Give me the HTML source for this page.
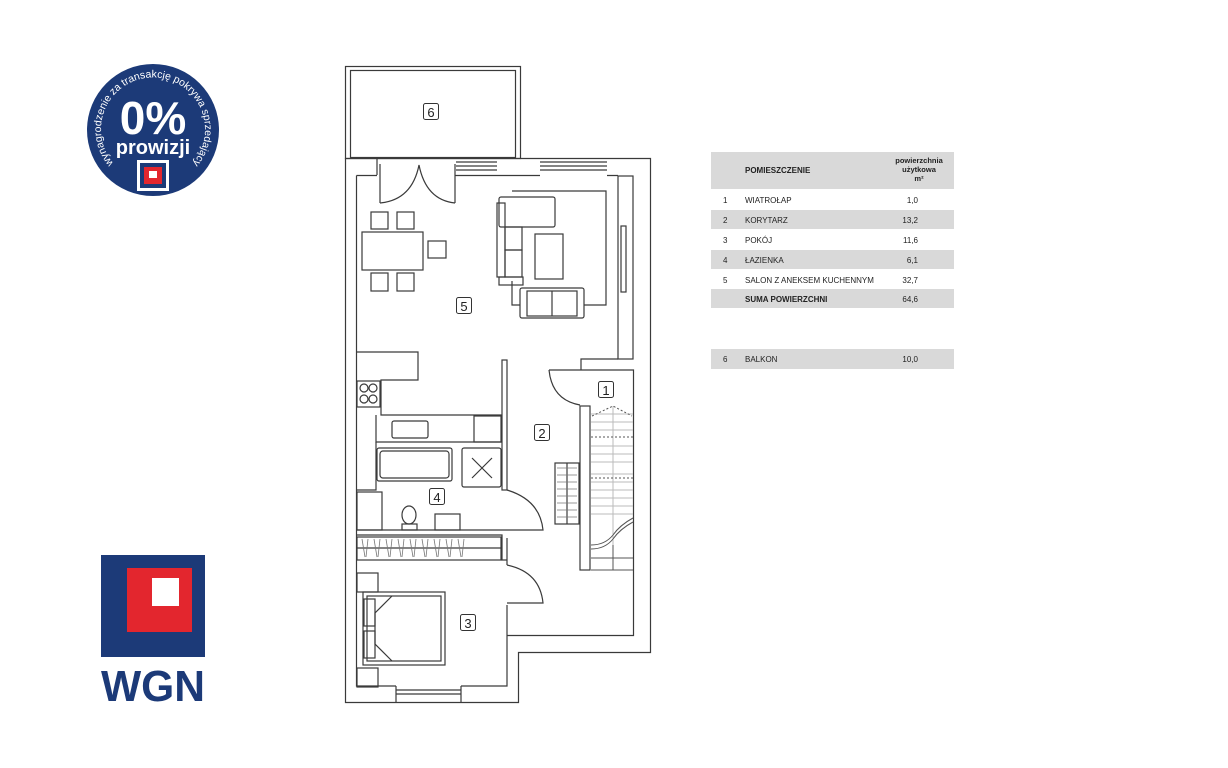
<!DOCTYPE html>
<html><head><meta charset="utf-8"><style>
html,body{margin:0;padding:0;background:#fff;}
body{width:1228px;height:768px;position:relative;overflow:hidden;font-family:"Liberation Sans",sans-serif;}
</style></head><body>
<svg width="1228" height="768" viewBox="0 0 1228 768" xmlns="http://www.w3.org/2000/svg" style="position:absolute;left:0;top:0">
<rect width="1228" height="768" fill="#fff"/>
<!-- badge -->
<circle cx="153" cy="130" r="66" fill="#1c3a78"/>
<defs><path id="arc" d="M117,167 A52,52 0 1,1 189,167"/></defs>
<text font-family="Liberation Sans,sans-serif" font-size="10.5" fill="#fff" text-anchor="middle"><textPath href="#arc" startOffset="50%">wynagrodzenie za transakcję pokrywa sprzedający</textPath></text>
<text x="153" y="134" text-anchor="middle" font-family="Liberation Sans,sans-serif" font-weight="bold" font-size="46" fill="#fff">0%</text>
<text x="153" y="154" text-anchor="middle" font-family="Liberation Sans,sans-serif" font-weight="bold" font-size="20" fill="#fff">prowizji</text>
<rect x="137" y="160" width="32" height="31" fill="#fff"/>
<rect x="140" y="163" width="26" height="25" fill="#1c3a78"/>
<rect x="144" y="167" width="18" height="17" fill="#e3262e"/>
<rect x="149" y="171" width="8" height="7" fill="#fff"/>
<!-- WGN logo -->
<rect x="101" y="555" width="104" height="102" fill="#1c3a78"/>
<rect x="127" y="568" width="65" height="64" fill="#e3262e"/>
<rect x="152" y="578" width="27" height="28" fill="#fff"/>
<text x="153" y="701" text-anchor="middle" font-family="Liberation Sans,sans-serif" font-weight="bold" font-size="44" fill="#1c3a78" textLength="104" lengthAdjust="spacingAndGlyphs">WGN</text>

<!-- floor plan -->
<g fill="none" stroke="#3a3a3a" stroke-width="1.2">
<rect x="345.5" y="66.5" width="175" height="92"/>
<rect x="350.5" y="70.5" width="165" height="87"/>
<path d="M345.5,158.5 H650.5 V652.5 H518.5 V702.5 H345.5 Z"/>
<path d="M356.5,175.5 H377 M455,175.5 H540 M607,175.5 H618"/>
<path d="M356.5,175.5 V686 H396 M461,686 H507 V605"/>
<path d="M507,565 V538"/>
<path d="M456,162 H497 M456,166 H497 M456,170 H497 M540,162 H607 M540,166 H607 M540,170 H607"/>
<path d="M396,686 V702 M461,686 V702 M396,690 H461 M396,694 H461"/>
<path d="M377,158 V175 M380,164 V203 M455,164 V203"/>
<path d="M380,203 Q412,200 419,165 Q426,200 455,203"/>
<rect x="618" y="176" width="15" height="183"/>
<rect x="621" y="226" width="5" height="66"/>
<path d="M581,370 V359 H618"/>
<path d="M549,370 H633.5 V635.5 H507.5"/>
<path d="M549,370 Q552,400 580,405"/>
<rect x="580" y="406" width="10" height="164"/>
<rect x="555" y="463" width="24" height="61"/>
<path d="M567,463 V524"/>
<path d="M512,191 H606 V305 H584 M520,305 H512 V281"/>
<rect x="499" y="197" width="56" height="30" rx="2"/>
<rect x="497" y="203" width="8" height="74"/>
<rect x="505" y="227" width="17" height="23"/>
<rect x="505" y="250" width="17" height="27"/>
<rect x="499" y="277" width="24" height="8"/>
<rect x="535" y="234" width="28" height="45"/>
<rect x="520" y="288" width="64" height="30" rx="2"/>
<rect x="527" y="291" width="50" height="25"/>
<path d="M552,291 V316"/>
<rect x="362" y="232" width="61" height="38"/>
<rect x="371" y="212" width="17" height="17"/>
<rect x="397" y="212" width="17" height="17"/>
<rect x="371" y="273" width="17" height="18"/>
<rect x="397" y="273" width="17" height="18"/>
<rect x="428" y="241" width="18" height="17"/>
<path d="M357,352 H418 V380 H381 V415 H502"/>
<rect x="502" y="360" width="5" height="130"/>
<rect x="357" y="381" width="23" height="26"/>
<circle cx="364" cy="388" r="4"/><circle cx="373" cy="388" r="4"/><circle cx="364" cy="399" r="4"/><circle cx="373" cy="399" r="4"/>
<path d="M376,415 V442 H502"/>
<rect x="392" y="421" width="36" height="17" rx="2"/>
<rect x="474" y="416" width="27" height="26"/>
<path d="M376,442 V490 H357"/>
<rect x="377" y="448" width="75" height="33" rx="2"/>
<rect x="380" y="451" width="69" height="27" rx="3"/>
<rect x="462" y="448" width="39" height="39" rx="2"/>
<path d="M472,458 L492,478 M492,458 L472,478"/>
<rect x="357" y="492" width="25" height="38"/>
<ellipse cx="409" cy="515" rx="7" ry="9"/>
<rect x="402" y="524" width="15" height="6"/>
<rect x="435" y="514" width="25" height="16"/>
<path d="M356,530 H507 M356,535 H502 V560 H507"/>
<path d="M507,490 Q540,500 543,530 H507"/>
<rect x="357" y="537" width="144" height="23"/>
<path d="M357,548 H501"/>
<path d="M507,565 Q540,572 543,603 H507"/>
<rect x="357" y="573" width="21" height="19"/>
<rect x="357" y="668" width="21" height="19"/>
<rect x="363" y="592" width="82" height="73"/>
<rect x="367" y="596" width="74" height="65"/>
<rect x="364" y="599" width="11" height="27"/><rect x="364" y="631" width="11" height="27"/>
<path d="M392,596 L375,613 V644 L392,661"/>
</g>
<g stroke="#777" stroke-width="0.8">
<path d="M362,539 l3,18 M368,539 l-2,18 M374,539 l3,18 M380,539 l-2,18 M386,539 l3,18 M392,539 l-2,18 M398,539 l3,18 M404,539 l-2,18 M410,539 l3,18 M416,539 l-2,18 M422,539 l3,18 M428,539 l-2,18 M434,539 l3,18 M440,539 l-2,18 M446,539 l3,18 M452,539 l-2,18 M458,539 l3,18 M464,539 l-2,18"/>
<path d="M557,468 h20 M557,475 h20 M557,482 h20 M557,489 h20 M557,496 h20 M557,503 h20 M557,510 h20 M557,517 h20"/>
</g>
<g stroke="#bbb" stroke-width="1">
<path d="M591,414 H633 M591,422 H633 M591,430 H633 M591,446 H633 M591,454 H633 M591,462 H633 M591,474 H633 M591,482 H633 M591,490 H633 M591,498 H633 M591,506 H633 M591,514 H633 M613,406 V545"/>
</g>
<g stroke="#555" stroke-width="1">
<path d="M591,437 H633 M591,478 H633" stroke-dasharray="2,2"/>
<path d="M592,416 L613,406 L632,416" stroke-dasharray="2,2" fill="none"/>
<path d="M591,545 Q605,545 613,535 Q620,525 633,518" fill="none"/>
<path d="M591,549 Q605,549 613,539 Q620,529 633,522" fill="none"/>
<path d="M591,558 H633 M591,570 H633 M613,545 V570"/>
</g>
<g font-family="Liberation Sans,sans-serif" font-size="13" fill="#222" text-anchor="middle">
<g fill="none" stroke="#333" stroke-width="1">
<rect x="423.5" y="103.5" width="15" height="16" rx="2"/>
<rect x="456.5" y="297.5" width="15" height="16" rx="2"/>
<rect x="598.5" y="381.5" width="15" height="16" rx="2"/>
<rect x="534.5" y="424.5" width="15" height="16" rx="2"/>
<rect x="429.5" y="488.5" width="15" height="16" rx="2"/>
<rect x="460.5" y="614.5" width="15" height="16" rx="2"/>
</g>
<text x="431" y="117">6</text><text x="464" y="311">5</text><text x="606" y="395">1</text>
<text x="542" y="438">2</text><text x="437" y="502">4</text><text x="468" y="628">3</text>
</g>

<g font-family="Liberation Sans,sans-serif" font-size="8" fill="#222">
<rect x="711" y="152" width="243" height="37" fill="#d9d9d9"/>
<rect x="711" y="210" width="243" height="19" fill="#d9d9d9"/>
<rect x="711" y="250" width="243" height="19" fill="#d9d9d9"/>
<rect x="711" y="289" width="243" height="19" fill="#d9d9d9"/>
<rect x="711" y="349" width="243" height="20" fill="#d9d9d9"/>
<text x="745" y="173" font-weight="bold">POMIESZCZENIE</text>
<text x="919" y="163" text-anchor="middle" font-weight="bold" font-size="7.5">powierzchnia</text>
<text x="919" y="172" text-anchor="middle" font-weight="bold" font-size="7.5">użytkowa</text>
<text x="919" y="181" text-anchor="middle" font-weight="bold" font-size="7.5">m²</text>
<text x="723" y="203">1</text><text x="745" y="203">WIATROŁAP</text><text x="918" y="203" text-anchor="end">1,0</text>
<text x="723" y="223">2</text><text x="745" y="223">KORYTARZ</text><text x="918" y="223" text-anchor="end">13,2</text>
<text x="723" y="243">3</text><text x="745" y="243">POKÓJ</text><text x="918" y="243" text-anchor="end">11,6</text>
<text x="723" y="263">4</text><text x="745" y="263">ŁAZIENKA</text><text x="918" y="263" text-anchor="end">6,1</text>
<text x="723" y="283">5</text><text x="745" y="283">SALON Z ANEKSEM KUCHENNYM</text><text x="918" y="283" text-anchor="end">32,7</text>
<text x="745" y="302" font-weight="bold">SUMA POWIERZCHNI</text><text x="918" y="302" text-anchor="end">64,6</text>
<text x="723" y="362">6</text><text x="745" y="362">BALKON</text><text x="918" y="362" text-anchor="end">10,0</text>
</g>
</svg>
</body></html>
